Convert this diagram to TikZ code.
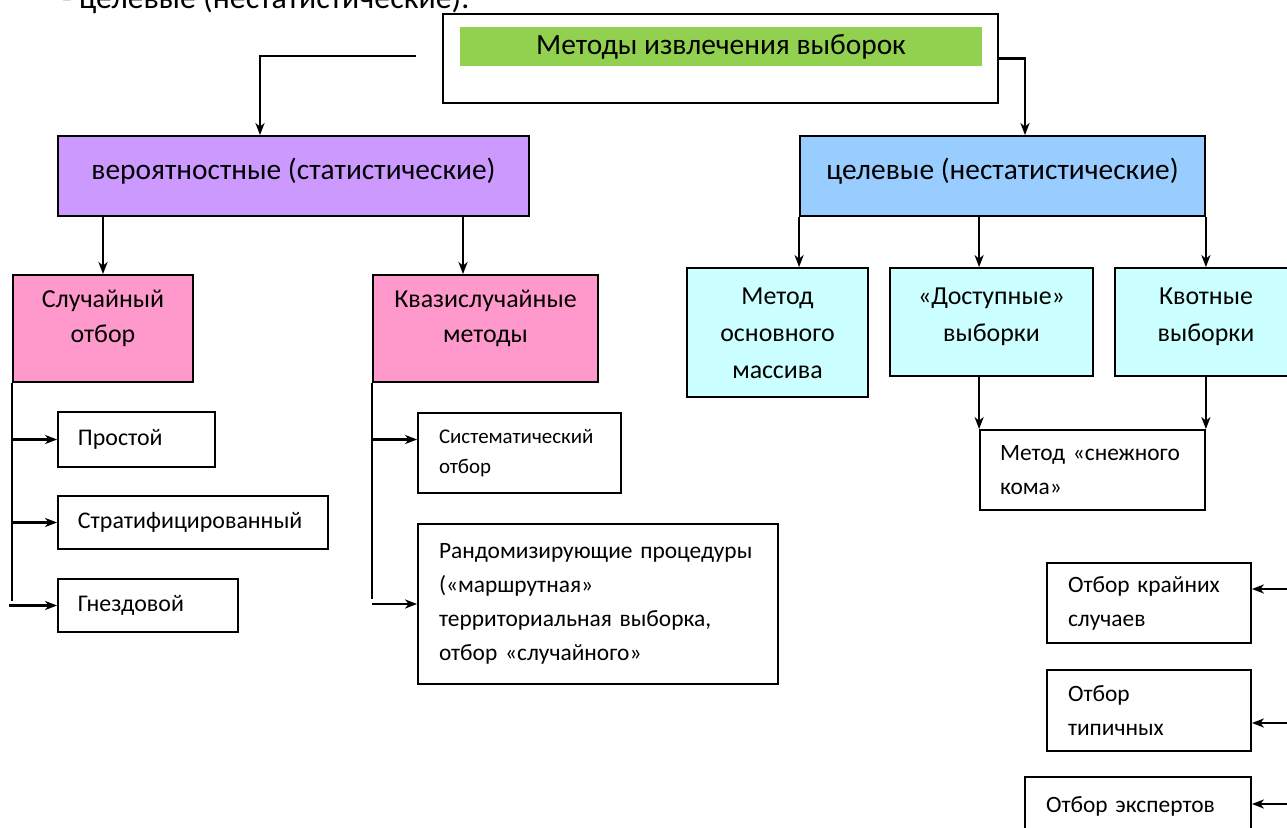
\documentclass[tikz,border=0pt]{standalone}
\usepackage{fontspec}
\setmainfont{Carlito}
\usetikzlibrary{arrows.meta}

\definecolor{titlegreen}{HTML}{92D050}
\definecolor{probviolet}{HTML}{CC99FF}
\definecolor{targetblue}{HTML}{99CCFF}
\definecolor{methodpink}{HTML}{FF99CC}
\definecolor{methodcyan}{HTML}{CCFFFF}

% fixed heights of the first line of a text block
\newcommand{\lineup}{\rule{0pt}{20bp}}
\newcommand{\biglineup}{\rule{0pt}{24bp}}

\tikzset{
  box/.style={draw, line width=1.8bp, inner sep=0pt, align=center},
  leftbox/.style={box, align=left, inner xsep=#1},
  leftbox/.default=20bp,
  toptext/.style={anchor=north, inner sep=0pt, align=center},
  link/.style={line width=2.1bp},
  arr/.style={link, -{Stealth[length=12bp, width=9bp, inset=3.5bp]}},
  big/.style={font=\fontsize{29.5}{34}\selectfont},
  mid/.style={font=\fontsize{26}{35}\selectfont},
  midc/.style={font=\fontsize{26}{37}\selectfont},
  body/.style={font=\fontsize{24}{28}\selectfont},
  small/.style={font=\fontsize{21}{30}\selectfont},
  note/.style={font=\fontsize{23.5}{34}\selectfont},
}

\begin{document}
\begin{tikzpicture}[x=1bp, y=-1bp]
\useasboundingbox (0,0) rectangle (1287,828);
\clip (0,0) rectangle (1287,828);

% heading line above the scheme
\node[anchor=base west, font=\fontsize{32}{36}\selectfont, inner sep=0pt] (prev) at (62,8) {- целевые (нестатистические).};

% root
\node[box, minimum width=555bp, minimum height=89bp] (top) at (720.5,58.5) {};
\node[fill=titlegreen, inner sep=0pt, minimum width=522bp, minimum height=39bp, big] (title) at (721,46.5) {Методы извлечения выборок};

% two main groups
\node[box, fill=probviolet, minimum width=471bp, minimum height=80bp] (prob) at (293.5,176) {};
\node[toptext, big] (probtext) at ([yshift=-20bp]prob.north) {\biglineup вероятностные (статистические)};
\node[box, fill=targetblue, minimum width=405bp, minimum height=80bp] (target) at (1002.5,176) {};
\node[toptext, big] (targettext) at ([yshift=-20bp]target.north) {\biglineup целевые (нестатистические)};

% probabilistic branch
\node[box, fill=methodpink, minimum width=180bp, minimum height=107bp] (rand) at (103,328.5) {};
\node[toptext, mid] (randtext) at ([yshift=-13bp]rand.north) {\lineup Случайный\\отбор};
\node[box, fill=methodpink, minimum width=225bp, minimum height=107bp] (quasi) at (485.5,328.5) {};
\node[toptext, mid] (quasitext) at ([yshift=-13bp]quasi.north) {\lineup Квазислучайные\\методы};

\node[leftbox, text width=117bp, minimum height=55bp, body] (simple) at (136.5,439.5) {Простой};
\node[leftbox, text width=230bp, minimum height=53bp, body] (strat) at (193,522.5) {Стратифицированный};
\node[leftbox, text width=140bp, minimum height=53bp, body] (nest) at (148,605.5) {Гнездовой};

\node[leftbox=21bp, text width=161bp, minimum height=80bp, small] (sys) at (519.5,453) {Систематический\\отбор};
\node[leftbox=21bp, text width=318bp, minimum height=160bp, note] (randp) at (598,604) {\mbox{Рандомизирующие процедуры}\\(«маршрутная»\\\mbox{территориальная выборка,}\\\mbox{отбор «случайного»}};

% target branch
\node[box, fill=methodcyan, minimum width=181bp, minimum height=129bp] (mass) at (777.5,332.5) {};
\node[toptext, midc] (masstext) at ([yshift=-17bp]mass.north) {\lineup Метод\\основного\\массива};
\node[box, fill=methodcyan, minimum width=203bp, minimum height=108bp] (avail) at (991.5,322) {};
\node[toptext, midc] (availtext) at ([yshift=-17bp]avail.north) {\lineup «Доступные»\\выборки};
\node[box, fill=methodcyan, minimum width=182bp, minimum height=108bp] (quota) at (1206,322) {};
\node[toptext, midc] (quotatext) at ([yshift=-17bp]quota.north) {\lineup Квотные\\выборки};

\node[leftbox=20bp, text width=185bp, minimum height=80bp, note] (snow) at (1092.5,470) {\mbox{Метод «снежного}\\кома»};

\node[leftbox=21bp, text width=162bp, minimum height=80bp, note] (extreme) at (1149,603) {\mbox{Отбор крайних}\\случаев};
\node[leftbox=21bp, text width=162bp, minimum height=81bp, note] (typical) at (1149,710.5) {Отбор\\типичных};
\node[leftbox=21bp, text width=184bp, minimum height=58bp, note] (experts) at (1138,806) {\mbox{Отбор экспертов}};

% connectors from the root
\coordinate (lstart) at (416,56);
\draw[arr] (lstart) -| ([xshift=-33.5bp]prob.north);
\draw[arr] (top.east) -| ([xshift=22.5bp]target.north);

% probabilistic connectors
\coordinate (quasiin) at ([xshift=-22.5bp]quasi.north);
\draw[arr] (prob.south -| rand.north) -- (rand.north);
\draw[arr] (prob.south -| quasiin) -- (quasiin);

\draw[link] (rand.south west) -- ([yshift=5bp]rand.south west |- nest.west);
\draw[arr] (rand.south west |- simple.west) -- (simple.west);
\draw[arr] (rand.south west |- strat.west) -- (strat.west);
\draw[arr] ([xshift=-3bp]rand.south west |- nest.west) -- (nest.west);

\draw[link] (quasi.south west) -- ([yshift=5bp]quasi.south west |- randp.west);
\draw[arr] (quasi.south west |- simple.west) -- (sys.west |- simple.west);
\draw[arr] (quasi.south west |- randp.west) -- (randp.west);

% target connectors
\draw[arr] (target.south west) -- (mass.north -| target.south west);
\draw[arr] (target.south -| snow.north west) -- (avail.north -| snow.north west);
\draw[arr] (target.south east) -- (quota.north -| target.south east);
\draw[arr] (avail.south -| snow.north west) -- (snow.north west);
\draw[arr] (quota.south -| snow.north east) -- (snow.north east);

% incoming arrows from the right
\coordinate (in1) at (1290,589);
\coordinate (in2) at (1290,723);
\coordinate (in3) at (1290,804);
\draw[arr] (in1) -- (in1 -| extreme.east);
\draw[arr] (in2) -- (in2 -| typical.east);
\draw[arr] (in3) -- (in3 -| experts.east);
\end{tikzpicture}
\end{document}
